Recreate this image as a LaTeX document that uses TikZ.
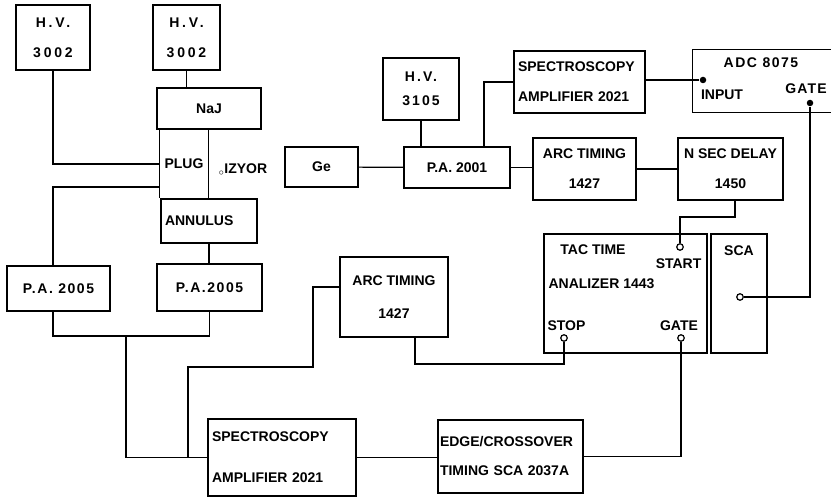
\documentclass[tikz,border=0pt]{standalone}
\usepackage{fontspec}
\setmainfont{Liberation Sans}
\usetikzlibrary{positioning}
\begin{document}
\begin{tikzpicture}[
    x=1pt, y=-1pt, line width=1.2pt,
    unit/.style={rectangle, draw, inner sep=4pt, align=center, font=\fontsize{14}{16}\selectfont\bfseries},
    rowsep/.style={font=\fontsize{14}{#1}\selectfont\bfseries},
    spaced/.style={execute at begin node=\addfontfeature{LetterSpace=#1}},
    tag/.style={inner sep=1pt, font=\fontsize{14}{16}\selectfont\bfseries},
    port/.style={circle, draw, fill=white, inner sep=0pt, minimum size=6.5pt},
    dot/.style={circle, fill, inner sep=0pt, minimum size=6.5pt}
]
\useasboundingbox (0,0) rectangle (831,497);

% Detector side
\node[unit, rowsep=30, spaced=20, minimum width=74, minimum height=65] (hva) at (53,37.5) {H.V.\\3002};
\node[unit, rowsep=30, spaced=20, minimum width=67, minimum height=65] (hvb) at (186.5,37.5) {H.V.\\3002};
\node[unit, minimum width=104, minimum height=41] (naj) at (209,108.5) {NaJ};
\node[unit, draw=none, minimum width=48, minimum height=70] (plug) at (184,164) {PLUG};
\node[tag] (izyor) at (243,170) {${}_{\circ}$IZYOR};
\node[unit, align=left, text width=88, minimum height=44] (ann) at (209,221) {ANNULUS};
\node[unit, spaced=11, minimum width=103, minimum height=45] (pa1) at (58.5,288.5) {P.A. 2005};
\node[unit, spaced=11, minimum width=105, minimum height=47] (pa2) at (209.5,287.5) {P.A.2005};

% Ge branch
\node[unit, minimum width=73, minimum height=40] (ge) at (321.5,167) {Ge};
\node[unit, rowsep=24, spaced=15, minimum width=76, minimum height=62] (hvc) at (421,89) {H.V.\\3105};
\node[unit, minimum width=106, minimum height=41] (pa3) at (457,167.5) {P.A. 2001};
\node[unit, rowsep=30, align=left, text width=123, minimum height=62] (spa) at (579.5,82) {SPECTROSCOPY\\AMPLIFIER 2021};
\node[unit, rowsep=30, minimum width=103, minimum height=62] (arca) at (584.5,169) {ARC TIMING\\1427};
\node[unit, rowsep=30, minimum width=105, minimum height=62] (nsd) at (730.5,169) {N SEC DELAY\\1450};

% ADC (cut at the right edge)
\node[unit, draw=none, minimum width=138, minimum height=62] (adc) at (762,81) {};
\node[tag, spaced=11] (adclbl) at (761,63) {ADC 8075};
\node[tag] (inlbl) at (722,95) {INPUT};
\node[tag, spaced=8] (adcgatelbl) at (806,89) {GATE};
\node[dot] (adcin) at (703,80) {};
\node[dot] (adcgate) at (810,103) {};

% TAC and SCA
\node[unit, minimum width=163, minimum height=119] (tac) at (625.5,293.5) {};
\node[unit, minimum width=56, minimum height=119] (sca) at (739,293.5) {};
\node[tag] (tactime) at (593,250) {TAC TIME};
\node[tag, anchor=east] (startlbl) at (703,264) {START};
\node[tag, anchor=west] (analizer) at (547,284) {ANALIZER 1443};
\node[tag, anchor=west] (stoplbl) at (546,326) {STOP};
\node[tag] (gatelbl) at (679,326) {GATE};
\node[tag] (scalbl) at (739,251) {SCA};
\node[port] (start) at (680,247) {};
\node[port] (stop) at (564,338) {};
\node[port] (tgate) at (681,338) {};
\node[port] (scain) at (740,297) {};

% Timing and lower amplifiers
\node[unit, rowsep=33, minimum width=108, minimum height=80] (arcb) at (394,297) {ARC TIMING\\1427};
\node[unit, rowsep=41, align=left, text width=140, minimum height=77] (spb) at (282,457.5) {SPECTROSCOPY\\AMPLIFIER 2021};
\node[unit, rowsep=29, align=left, text width=141, inner sep=2pt, minimum height=73] (edge) at (510.5,456.5) {EDGE/CROSSOVER\\TIMING SCA 2037A};

% Bends
\coordinate (j1) at (53,187);
\coordinate (j2) at (126,336);
\coordinate (j3) at (188,367);
\coordinate (j4) at (313,287);
\coordinate (j5) at (415,364);
\coordinate (k1) at (484,80);
\coordinate (k2) at (735,217);

% Connections
\draw (hvb.south) -- (hvb.south |- naj.north);
\draw (naj.south -| plug.west) -- (ann.north -| plug.west);
\draw (naj.south -| plug.east) -- (ann.north -| plug.east);
\draw (hva.south) |- (plug.west);
\draw (plug.west |- j1) -- (j1) -- (j1 |- pa1.north);
\draw (ann.south) -- (ann.south |- pa2.north);
\draw (j1 |- pa1.south) |- (j2) -| (pa2.south);
\draw (j2) |- (spb.west);
\draw (j3 |- spb.west) -- (j3) -| (j4) -- (arcb.west |- j4);
\draw (arcb.south -| j5) -- (j5) -| (stop.south);
\draw (spb.east) -- (spb.east -| edge.west);
\draw (edge.east) -| (tgate.south);
\draw (ge) -- (pa3);
\draw (hvc.south) -- (hvc.south |- pa3.north);
\draw (k1 |- pa3.north) |- (spa.west);
\draw (pa3.east) -- (pa3.east -| arca.west);
\draw (arca) -- (nsd);
\draw (spa.east |- adcin) -- (adcin);
\draw (nsd.south -| k2) -- (k2) -| (start.north);
\draw (adcgate) |- (scain);
\draw (adc.north east) -- (adc.north west) -- (adc.south west) -- (adc.south east);
\end{tikzpicture}
\end{document}
